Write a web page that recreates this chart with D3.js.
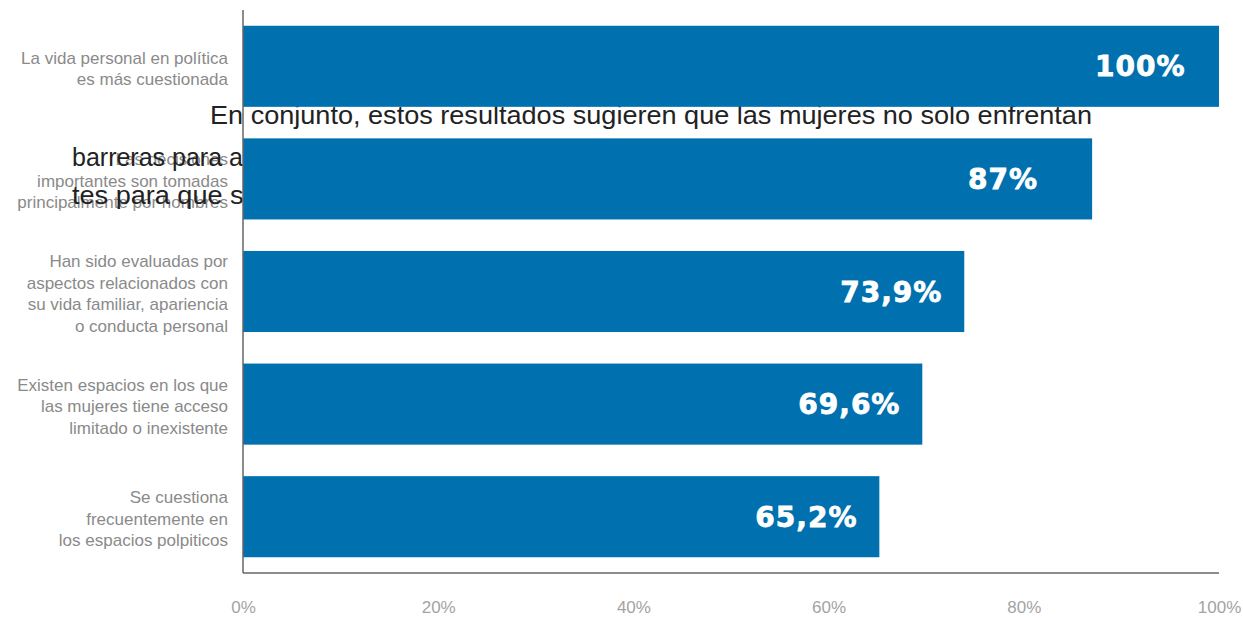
<!DOCTYPE html>
<html>
<head>
<meta charset="utf-8">
<script src="https://d3js.org/d3.v7.min.js"></script>
<style>
body { margin: 0; background: #fff; }
svg { display: block; }
</style>
</head>
<body>
<svg id="chart" width="1243" height="618"></svg>
<script>
// data
var categories = [
  ["La vida personal en política", "es más cuestionada"],
  ["Las decisiones", "importantes son tomadas", "principalmente por hombres"],
  ["Han sido evaluadas por", "aspectos relacionados con", "su vida familiar, apariencia", "o conducta personal"],
  ["Existen espacios en los que", "las mujeres tiene acceso", "limitado o inexistente"],
  ["Se cuestiona", "frecuentemente en", "los espacios polpiticos"]
];
var values = [100, 87, 73.9, 69.6, 65.2];
var valueLabels = ["100%", "87%", "73,9%", "69,6%", "65,2%"];
var xTicks = [0, 20, 40, 60, 80, 100];

// stray paragraph text that sits behind the bars
var paraLines = [
  "En conjunto, estos resultados sugieren que las mujeres no solo enfrentan",
  "barreras para acceder a cargos de decisión, sino también",
  "tes para que sus propuestas sean escuchadas"
];

var svg = d3.select("#chart");
var plotLeft = 243, plotRight = 1219, plotTop = 10, plotBottom = 573;

var x = d3.scaleLinear().domain([0, 100]).range([plotLeft, plotRight]);
var y = d3.scaleBand().domain(d3.range(values.length)).range([plotTop, plotBottom])
  .paddingInner(0.28).paddingOuter(0.14);

// category labels
var lab = svg.append("g");
categories.forEach(function(lines, i) {
  var cy = y(i) + y.bandwidth() / 2;
  var t = lab.append("text")
    .attr("text-anchor", "end")
    .attr("font-family", "Liberation Sans, Arial, sans-serif")
    .attr("font-size", 17)
    .attr("fill", "#8a8a8a");
  lines.forEach(function(s, j) {
    t.append("tspan")
      .attr("x", 228)
      .attr("y", cy + 2 + (j - (lines.length - 1) / 2) * 21.5)
      .attr("dy", "0.35em")
      .text(s);
  });
});

// paragraph text
var para = svg.append("g")
  .attr("font-family", "Liberation Sans, Arial, sans-serif")
  .attr("font-size", 25)
  .attr("fill", "#222");
var p1 = para.append("text").attr("x", 210).attr("y", 124).text(paraLines[0]);
var ratio = 882 / p1.node().getComputedTextLength();
p1.attr("textLength", 882).attr("lengthAdjust", "spacingAndGlyphs");
para.append("text").attr("x", 72).attr("y", 166).text(paraLines[1]);
var p3 = para.append("text").attr("x", 72).attr("y", 204).text(paraLines[2]);
p3.attr("textLength", p3.node().getComputedTextLength() * ratio).attr("lengthAdjust", "spacingAndGlyphs");

// bars
svg.selectAll("rect.bar").data(values).enter().append("rect")
  .attr("class", "bar")
  .attr("x", x(0))
  .attr("y", function(d, i) { return y(i); })
  .attr("width", function(d) { return x(d) - x(0); })
  .attr("height", y.bandwidth())
  .attr("fill", "#0070ae");

// axes lines
svg.append("line")
  .attr("x1", plotLeft).attr("x2", plotLeft).attr("y1", plotTop).attr("y2", plotBottom)
  .attr("stroke", "#666").attr("stroke-width", 1.5);
svg.append("line")
  .attr("x1", plotLeft).attr("x2", plotRight).attr("y1", plotBottom).attr("y2", plotBottom)
  .attr("stroke", "#666").attr("stroke-width", 1.5);

// value labels
svg.selectAll("text.val").data(values).enter().append("text")
  .attr("class", "val")
  .attr("x", function(d) { return x(d) - 124; })
  .attr("y", function(d, i) { return y(i) + y.bandwidth() / 2 + 10; })
  .attr("font-family", "DejaVu Sans, sans-serif")
  .attr("font-weight", "bold")
  .attr("font-size", 28)
  .attr("letter-spacing", 1)
  .attr("fill", "#fff")
  .attr("stroke", "#fff")
  .attr("stroke-width", 0.8)
  .text(function(d, i) { return valueLabels[i]; });

// x tick labels
var xAxis = d3.axisBottom(x).tickValues(xTicks).tickSize(0).tickPadding(0)
  .tickFormat(function(d) { return d + "%"; });
var gx = svg.append("g").attr("transform", "translate(0,601)").call(xAxis);
gx.select(".domain").remove();
gx.selectAll("text")
  .attr("font-family", "Liberation Sans Narrow, Liberation Sans, sans-serif")
  .attr("font-size", 17)
  .attr("fill", "#a3a3a3");
</script>
</body>
</html>
